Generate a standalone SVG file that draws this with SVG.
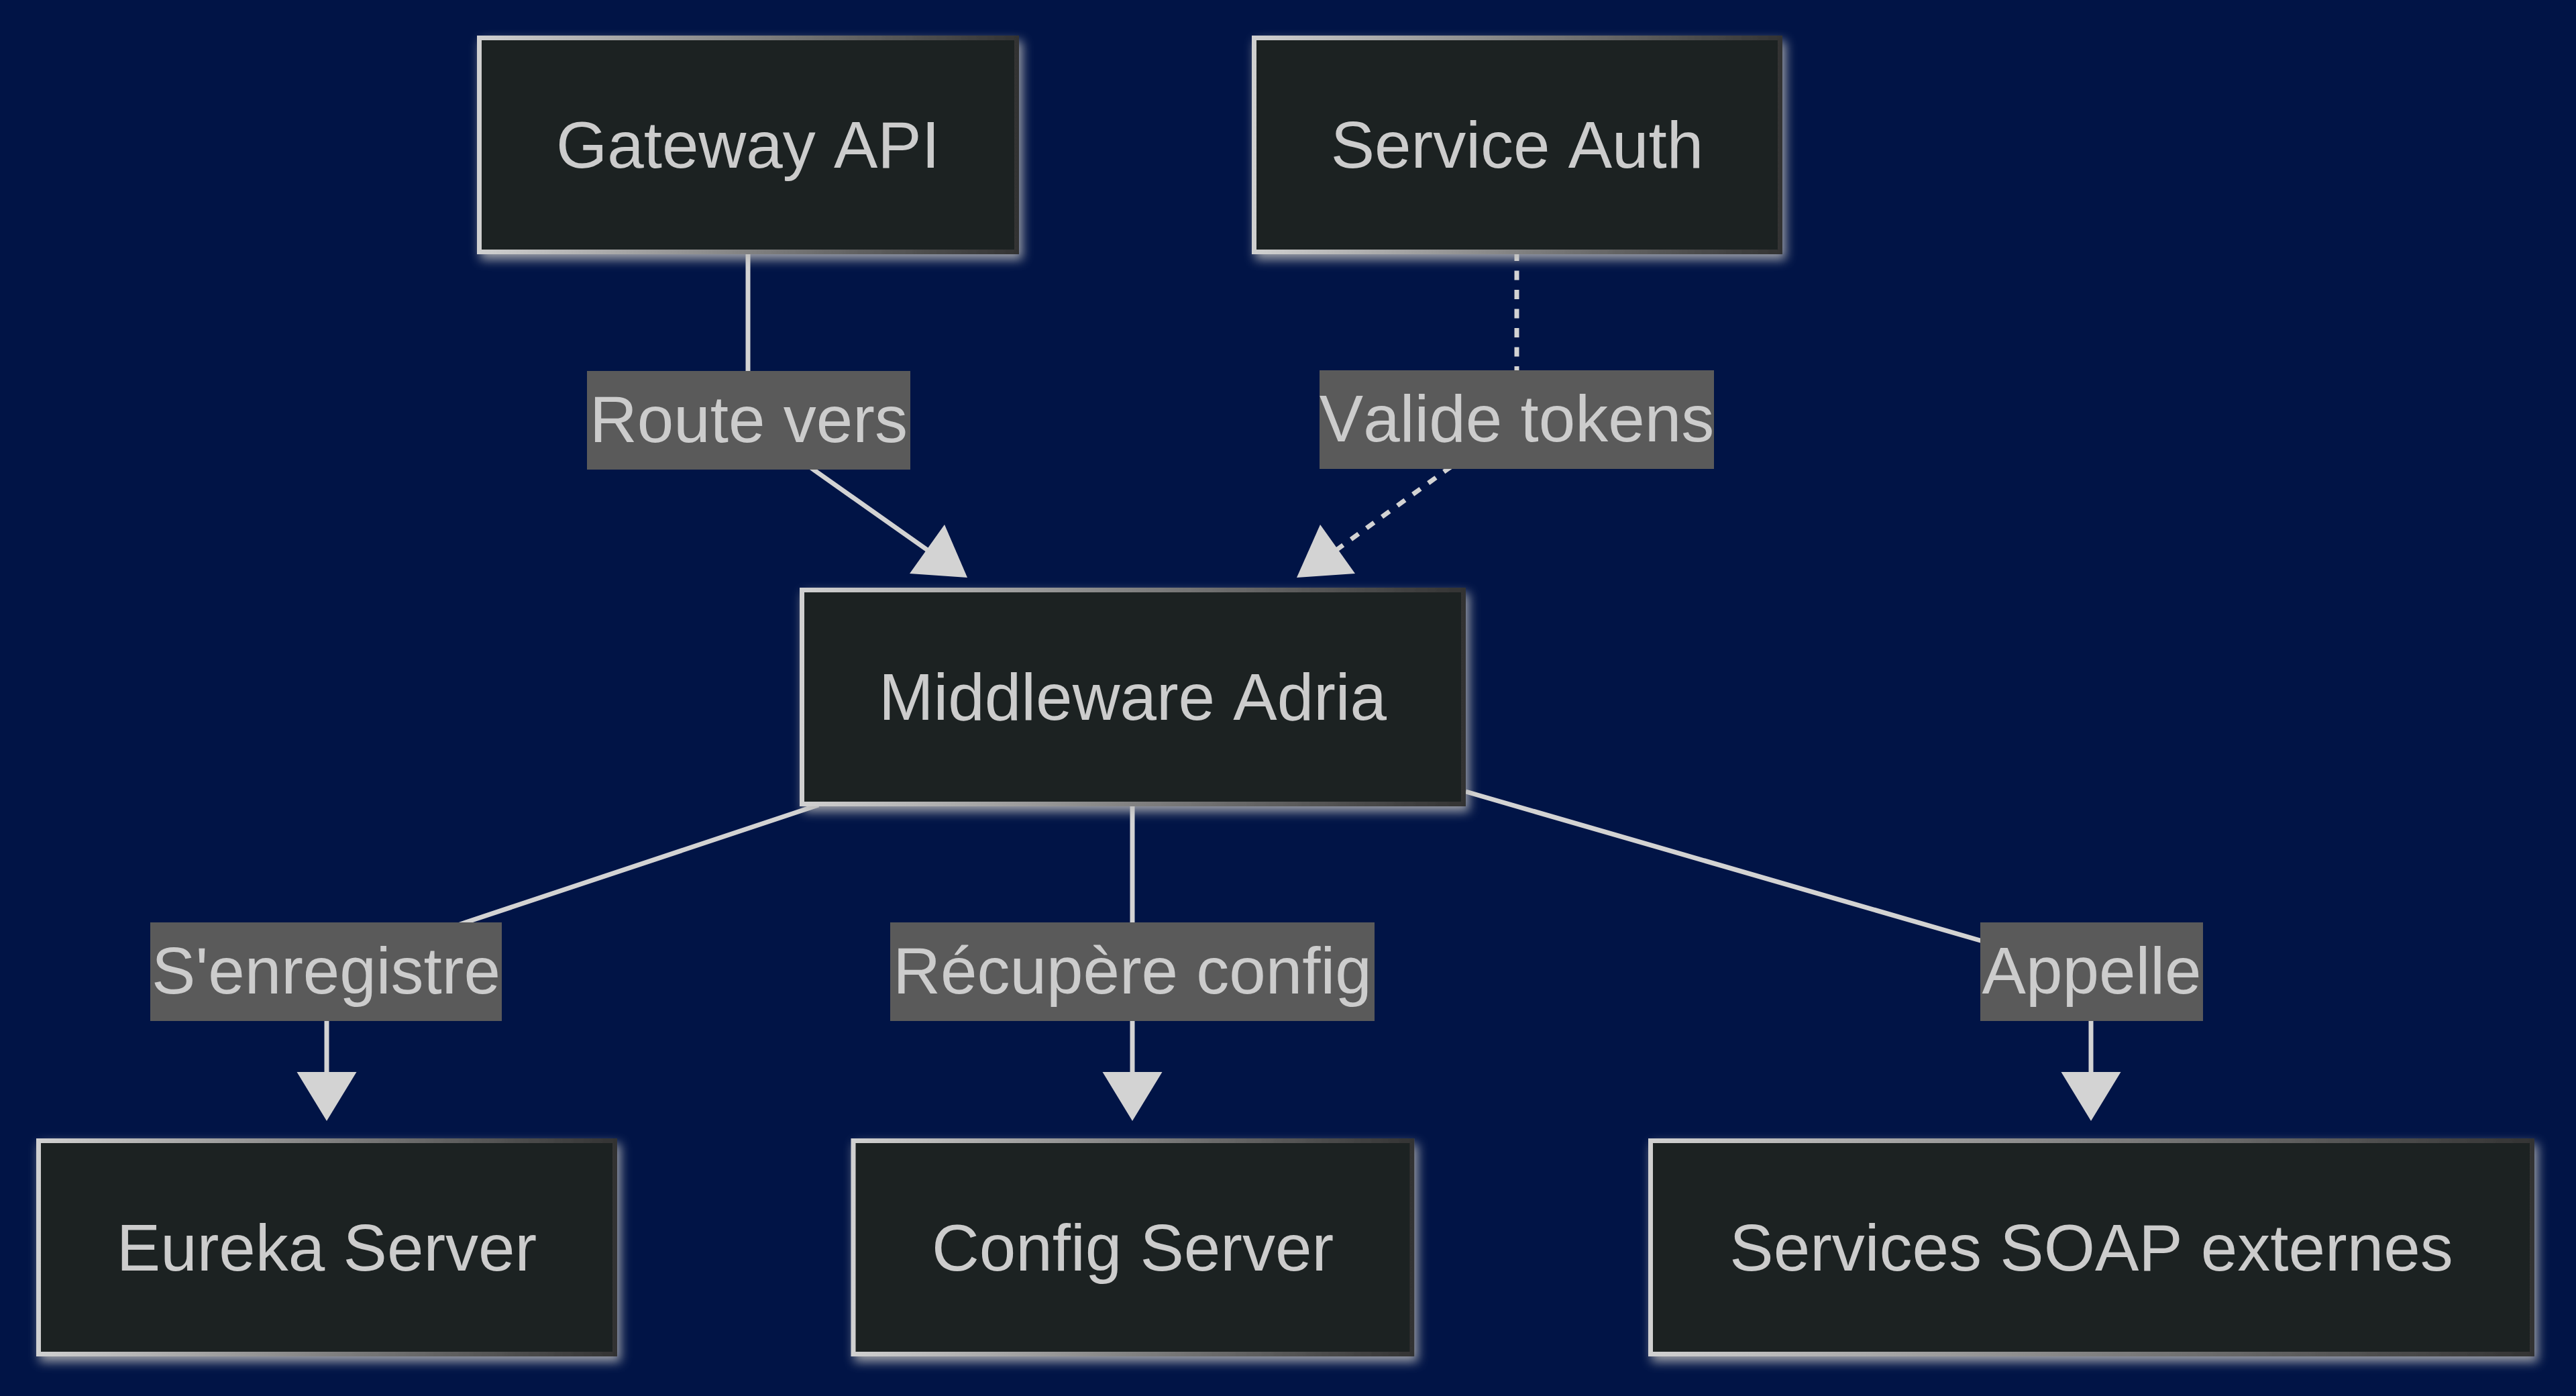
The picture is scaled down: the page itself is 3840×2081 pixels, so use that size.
<svg xmlns="http://www.w3.org/2000/svg" width="3840" height="2081" viewBox="0 0 3840 2081">
<style>
.bg{fill:#011446}
.node rect{fill:#1f2020;stroke:url(#nodeStroke);stroke-width:7;filter:url(#glow)}
.node text,.elabel text{font-family:"Liberation Sans",Arial,sans-serif;font-size:98px;font-kerning:none;fill:#cccccc;text-anchor:middle}
.edge{fill:none;stroke:#d3d3d3;stroke-width:7}
.dotted{stroke-dasharray:14 14.5}
.arrowhead{fill:#d3d3d3;stroke:none}
.elabel rect{fill:#5a5a5a}
</style>
<defs>
<linearGradient id="nodeStroke" x1="0" y1="0" x2="1" y2="0">
<stop offset="0" stop-color="#d0d0d0"/>
<stop offset="1" stop-color="#333333"/>
</linearGradient>
<filter id="glow" x="-10%" y="-20%" width="130%" height="150%">
<feDropShadow dx="5" dy="8" stdDeviation="8" flood-color="#b9b9b9" flood-opacity="0.85"/>
</filter>
</defs>
<rect class="bg" x="0" y="0" width="3840" height="2081"/>

<g id="connectors">
<path id="e-gateway-middleware" class="edge" d="M1115,379 L1115,627 L1214,701 L1384,821"/>
<polygon class="arrowhead" points="1356,855 1408,782 1442,861"/>
<path id="e-auth-middleware" class="edge dotted" d="M2261,375 L2261,626 L2157,700 L1985,825"/>
<polygon class="arrowhead" points="1933,861 1968,782 2020,855"/>
<path id="e-middleware-eureka" class="edge" d="M1220,1200 L694,1375 L487,1448 L487,1600"/>
<polygon class="arrowhead" points="442.5,1598 531.5,1598 487,1671"/>
<path id="e-middleware-config" class="edge" d="M1688,1199 L1688,1600"/>
<polygon class="arrowhead" points="1643.5,1598 1732.5,1598 1688,1671"/>
<path id="e-middleware-soap" class="edge" d="M2185,1180 L2952,1402 L3117,1448 L3117,1600"/>
<polygon class="arrowhead" points="3072.5,1598 3161.5,1598 3117,1671"/>
</g>

<g id="edge-labels">
<g class="elabel" id="l-route"><rect x="875" y="553" width="482" height="147"/><text x="1116" y="659">Route vers</text></g>
<g class="elabel" id="l-valide"><rect x="1967" y="552" width="588" height="147"/><text x="2261" y="658">Valide tokens</text></g>
<g class="elabel" id="l-enregistre"><rect x="224" y="1375" width="524" height="147"/><text x="486" y="1481">S'enregistre</text></g>
<g class="elabel" id="l-config"><rect x="1327" y="1375" width="722" height="147"/><text x="1688" y="1481">Récupère config</text></g>
<g class="elabel" id="l-appelle"><rect x="2952" y="1375" width="332" height="147"/><text x="3118" y="1481">Appelle</text></g>
</g>

<g id="node-gateway" class="node"><rect x="714.5" y="56.5" width="801" height="319"/><text x="1115" y="250">Gateway API</text></g>
<g id="node-auth" class="node"><rect x="1869.5" y="56.5" width="784" height="319"/><text x="2261.5" y="250">Service Auth</text></g>
<g id="node-middleware" class="node"><rect x="1195.5" y="879.5" width="986" height="319"/><text x="1688.5" y="1073">Middleware Adria</text></g>
<g id="node-eureka" class="node"><rect x="57.5" y="1700.5" width="859" height="318"/><text x="487" y="1894">Eureka Server</text></g>
<g id="node-config" class="node"><rect x="1272" y="1700.5" width="833" height="318"/><text x="1688.5" y="1894">Config Server</text></g>
<g id="node-soap" class="node"><rect x="2460.5" y="1700.5" width="1314" height="318"/><text x="3117.5" y="1894">Services SOAP externes</text></g>
</svg>
